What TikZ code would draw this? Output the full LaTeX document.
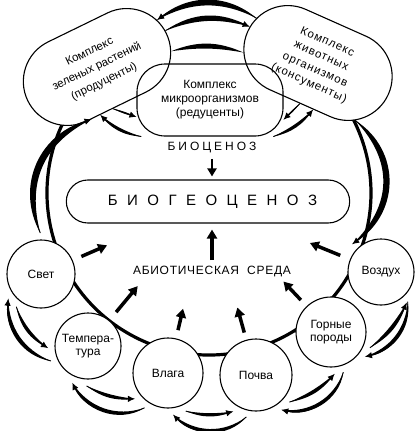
\documentclass[tikz,border=0pt]{standalone}
\usepackage{fontspec}
\setmainfont{Liberation Sans}
\usetikzlibrary{arrows.meta, shapes.misc, backgrounds}

\tikzset{
  factor/.style={circle, draw, line width=1.1pt, fill=white, minimum size=68pt,
    inner sep=0pt, outer sep=7pt, align=center, font=\fontsize{12}{13.5}\selectfont},
  complex/.style={rounded rectangle, draw, line width=1.1pt, fill=white,
    minimum width=158pt, minimum height=88pt, inner sep=2pt, align=center,
    font=\fontsize{11.5}{16.5}\selectfont},
  link/.style={line width=3.2pt},
  brushline/.style={line width=.9pt, -{Latex[length=7pt,width=6.5pt]}},
  radial/.style={line width=3.5pt, -{Triangle[length=9pt,width=10pt]}},
}

% tapered arrow: filled crescent plus a thin line carrying the tip
\newcommand\brush[4][]{%
  \pgfmathsetmacro\brushhi{#4+7}%
  \pgfmathsetmacro\brushlo{#4-7}%
  \fill (#2) to[#1,bend left=\brushhi] (#3) to[#1,bend right=\brushlo] (#2);
  \draw[brushline] (#2) to[#1,bend left=#4] (#3);
}

\begin{document}
\begin{tikzpicture}[x=1pt, y=1pt]
  \useasboundingbox (0,0) rectangle (419,-431);

  % biocenosis
  \node[complex, rotate=26] (green) at (97,-67) {Комплекс\\зеленых растений\\(продуценты)};
  \node[complex, rotate=-24, font=\fontsize{11.5}{15}\selectfont\addfontfeatures{LetterSpace=8}] (animal) at (318,-63) {Комплекс\\животных\\организмов\\(консументы)};
  \node[draw, line width=1.1pt, rounded corners=28pt, minimum width=146pt, minimum height=72pt,
    align=center, font=\fontsize{12}{14}\selectfont] (micro) at (210,-100) {Комплекс\\микроорганизмов\\(редуценты)};

  \node[font=\fontsize{12}{14}\selectfont\addfontfeatures{LetterSpace=25}] (biocenoz) at (212,-148) {БИОЦЕНОЗ};
  \node[rounded rectangle, draw, line width=1.1pt, minimum width=290pt, minimum height=43pt,
    font=\fontsize{15}{17}\selectfont\addfontfeatures{LetterSpace=63}] (bgc) at (208,-201.5) {\hspace{9pt}БИОГЕОЦЕНОЗ};
  \node[font=\fontsize{12}{14}\selectfont\addfontfeatures{LetterSpace=6}] (abio) at (212,-272) {АБИОТИЧЕСКАЯ\ \ СРЕДА};

  % abiotic factors
  \node[factor] (svet) at (41,-274) {Свет};
  \node[factor, minimum size=66pt] (temp) at (88,-346) {Темпера-\\тура};
  \node[factor, minimum size=70pt] (vlaga) at (168,-373) {Влага};
  \node[factor, minimum size=72pt] (pochva) at (256,-375) {Почва};
  \node[factor, minimum size=70pt] (gornye) at (331,-332) {Горные\\породы};
  \node[factor, minimum size=66pt] (vozduh) at (381,-272) {Воздух};

  \coordinate (hub) at (209,-193);
  \begin{pgfonlayer}{background}
    \draw[link] (hub) ++(150:162) arc[start angle=150, end angle=390, radius=162];
    \fill (green.-14) to[bend left=23] (animal.196) to[bend right=9] (green.-14);
  \end{pgfonlayer}

  \draw[line width=2.5pt, -{Triangle[length=8pt,width=9pt]}, shorten <=2pt, shorten >=3pt]
    (biocenoz.south) -- (biocenoz.south |- bgc.north);
  \draw[line width=4pt, -{Triangle[length=9pt,width=10pt]}, shorten <=3pt, shorten >=6pt]
    (abio.north) -- (abio.north |- bgc.south);

  \foreach \f in {svet,temp,vlaga,pochva,gornye,vozduh}
    \draw[radial, shorten <=44pt, shorten >=110pt] (\f.center) -- (bgc.center);

  % exchange between the complexes
  \brush{animal.168}{green.12}{-35}
  \brush{green.2}{animal.176}{25}
  \brush[line width=1.6pt]{green.-95}{micro.193}{0}
  \brush{micro.208}{green.-112}{17}
  \brush[line width=1.6pt]{animal.-90}{micro.-15}{0}
  \brush{micro.-30}{animal.-72}{-15}
  \brush[looseness=1.1]{svet.91}{green.-122}{46}
  \brush[looseness=1.15]{animal.-33}{vozduh.136}{52}

  % exchange between the factors
  \brush{svet.233}{temp.183}{-20}
  \brush{temp.202}{svet.217}{40}
  \brush{temp.268}{vlaga.218}{-15}
  \brush{vlaga.236}{temp.247}{45}
  \brush{vlaga.-65}{pochva.238}{-15}
  \brush{pochva.257}{vlaga.-83}{45}
  \brush{pochva.-39}{gornye.-85}{-15}
  \brush{gornye.-73}{pochva.-54}{45}
  \brush{gornye.-22}{vozduh.-50}{-15}
  \brush{vozduh.-48}{gornye.-36}{40}
\end{tikzpicture}
\end{document}
